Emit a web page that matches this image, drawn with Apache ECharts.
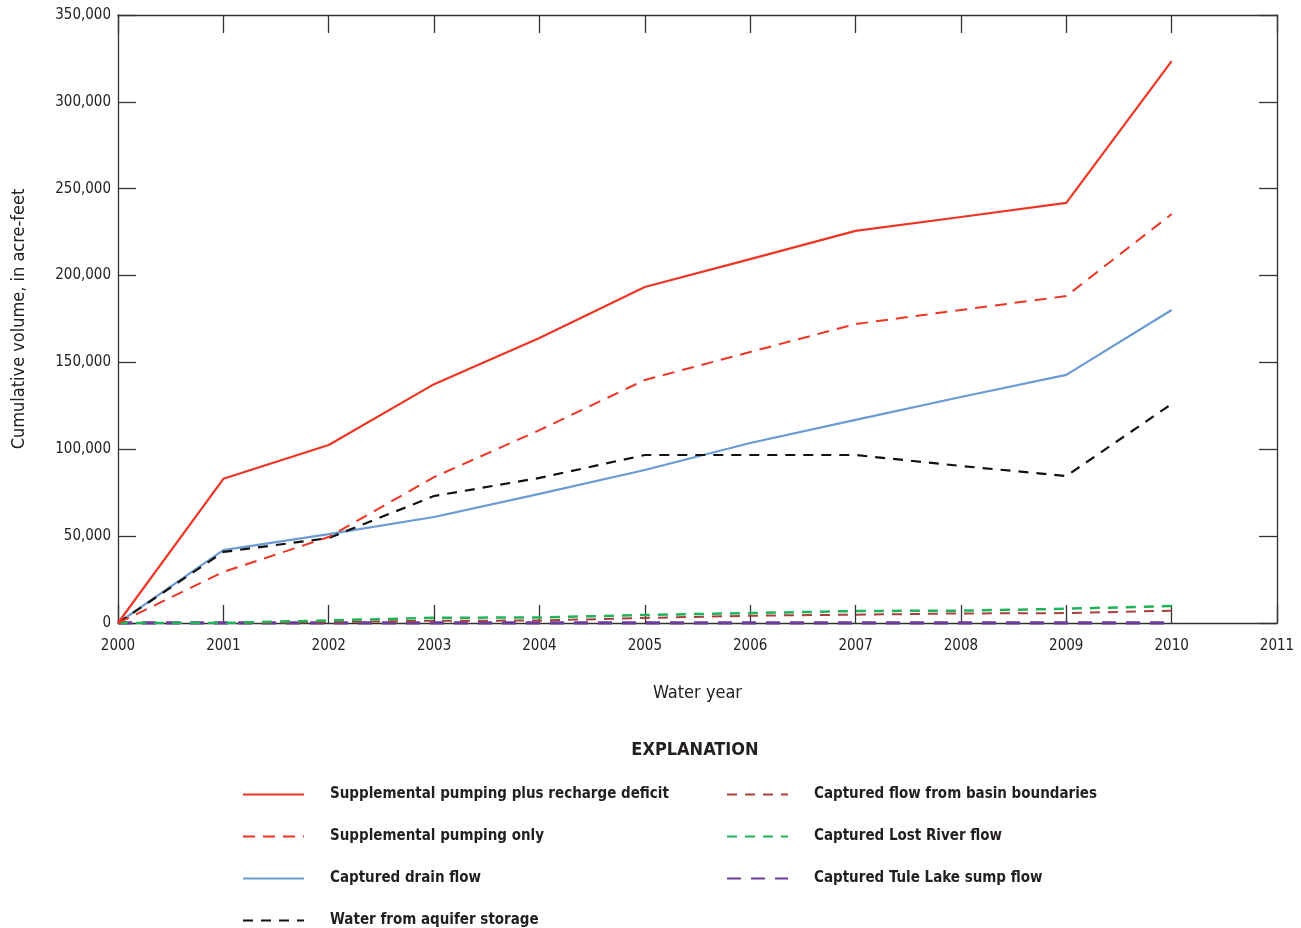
<!DOCTYPE html>
<html>
<head>
<meta charset="utf-8">
<script src="https://cdn.jsdelivr.net/npm/echarts@6/dist/echarts.min.js"></script>
<style>
html,body{margin:0;padding:0;background:#fff;}
#chart{width:1301px;height:928px;}
</style>
</head>
<body>
<div id="chart"></div>
<script>
var years = [2000, 2001, 2002, 2003, 2004, 2005, 2006, 2007, 2008, 2009, 2010];
var suppPlusDeficit = [0, 83000, 102500, 137500, 164000, 193400, 209500, 225700, 233700, 241800, 323500];
var suppOnly = [0, 29400, 49500, 84000, 111000, 139900, 156000, 172100, 180200, 188200, 235400];
var drainFlow = [0, 42000, 51200, 61000, 74300, 88100, 103600, 116900, 130100, 142800, 180200];
var aquiferStorage = [0, 40900, 48900, 73100, 83500, 96700, 96700, 96700, 90400, 84600, 126100];
var basinBoundaries = [0, 0, 500, 1300, 1400, 2900, 4200, 4800, 5500, 5700, 7100];
var lostRiver = [0, 0, 1500, 3000, 3200, 4600, 5700, 6900, 7100, 8200, 9800];
var tuleLake = [0, 0, 0, 0, 0, 0, 0, 0, 0, 0, 0];

var FONT = "'Liberation Sans Narrow','DejaVu Sans Condensed','Roboto Condensed',sans-serif";

function pairs(vals){ return years.map(function(y,i){ return [y, vals[i]]; }); }

function mk(name, vals, color, width, type, z){
  return {
    name: name, type: 'line', data: pairs(vals), symbol: 'none', showSymbol: false,
    lineStyle: {color: color, width: width, type: type},
    itemStyle: {color: color},
    z: z, animation: false, silent: true
  };
}

var chart = echarts.init(document.getElementById('chart'));
var axisLineStyle = {color: '#333', width: 1.3};
var legendCommon = {
  orient: 'vertical', top: 787, itemWidth: 61, itemHeight: 14, itemGap: 27, padding: 0,
  itemStyle: {opacity: 0, borderWidth: 0},
  textStyle: {fontFamily: FONT, fontSize: 15, fontWeight: 'bold', color: '#231f20', padding: [0,0,0,21]},
  selectedMode: false
};
chart.setOption({
  animation: false,
  grid: {left: 118, right: 24, top: 15, bottom: 305, containLabel: false},
  xAxis: [{
    type: 'value', min: 2000, max: 2011, interval: 1, position: 'bottom',
    axisLine: {show: true, onZero: false, lineStyle: axisLineStyle},
    axisTick: {show: true, inside: true, length: 18, lineStyle: axisLineStyle},
    axisLabel: {show: true, margin: 16, color: '#222', fontFamily: FONT, fontSize: 15, formatter: function(v){return String(v);}},
    splitLine: {show: false},
    name: 'Water year', nameLocation: 'middle', nameGap: 61,
    nameTextStyle: {color: '#222', fontFamily: FONT, fontSize: 18}
  },{
    type: 'value', min: 2000, max: 2011, interval: 1, position: 'top',
    axisLine: {show: true, onZero: false, lineStyle: axisLineStyle},
    axisTick: {show: true, inside: true, length: 18, lineStyle: axisLineStyle},
    axisLabel: {show: false}, splitLine: {show: false}
  }],
  yAxis: [{
    type: 'value', min: 0, max: 350000, interval: 50000, position: 'left',
    axisLine: {show: true, onZero: false, lineStyle: axisLineStyle},
    axisTick: {show: true, inside: true, length: 18, lineStyle: axisLineStyle},
    axisLabel: {show: true, margin: 7, color: '#222', fontFamily: FONT, fontSize: 15,
      formatter: function(v){ return v.toLocaleString('en-US'); }},
    splitLine: {show: false},
    name: 'Cumulative volume, in acre-feet', nameLocation: 'middle', nameGap: 90,
    nameTextStyle: {color: '#222', fontFamily: FONT, fontSize: 18}
  },{
    type: 'value', min: 0, max: 350000, interval: 50000, position: 'right',
    axisLine: {show: true, onZero: false, lineStyle: axisLineStyle},
    axisTick: {show: true, inside: true, length: 18, lineStyle: axisLineStyle},
    axisLabel: {show: false}, splitLine: {show: false}
  }],
  legend: [
    Object.assign({}, legendCommon, {
      left: 242,
      data: ['Supplemental pumping plus recharge deficit', 'Supplemental pumping only', 'Captured drain flow', 'Water from aquifer storage']
    }),
    Object.assign({}, legendCommon, {
      left: 726,
      data: ['Captured flow from basin boundaries', 'Captured Lost River flow', 'Captured Tule Lake sump flow']
    })
  ],
  graphic: [{
    type: 'text', x: 695, y: 750,
    style: {text: 'EXPLANATION', fontFamily: FONT, fontSize: 18, fontWeight: 'bold', fill: '#231f20',
      align: 'center', verticalAlign: 'middle'}
  }],
  series: [
    mk('Captured Tule Lake sump flow', tuleLake, '#6a3d9a', 3.5, [14, 10], 1),
    mk('Captured flow from basin boundaries', basinBoundaries, '#a6413c', 2, [10, 8], 2),
    mk('Captured Lost River flow', lostRiver, '#1fb45a', 2.5, [10, 8], 3),
    mk('Captured drain flow', drainFlow, '#6a9bd3', 2.2, 'solid', 4),
    mk('Water from aquifer storage', aquiferStorage, '#111111', 2.2, [10, 8], 5),
    mk('Supplemental pumping only', suppOnly, '#ee3524', 2, [12, 8], 6),
    mk('Supplemental pumping plus recharge deficit', suppPlusDeficit, '#ee3524', 2.2, 'solid', 7)
  ]
});
</script>
</body>
</html>
